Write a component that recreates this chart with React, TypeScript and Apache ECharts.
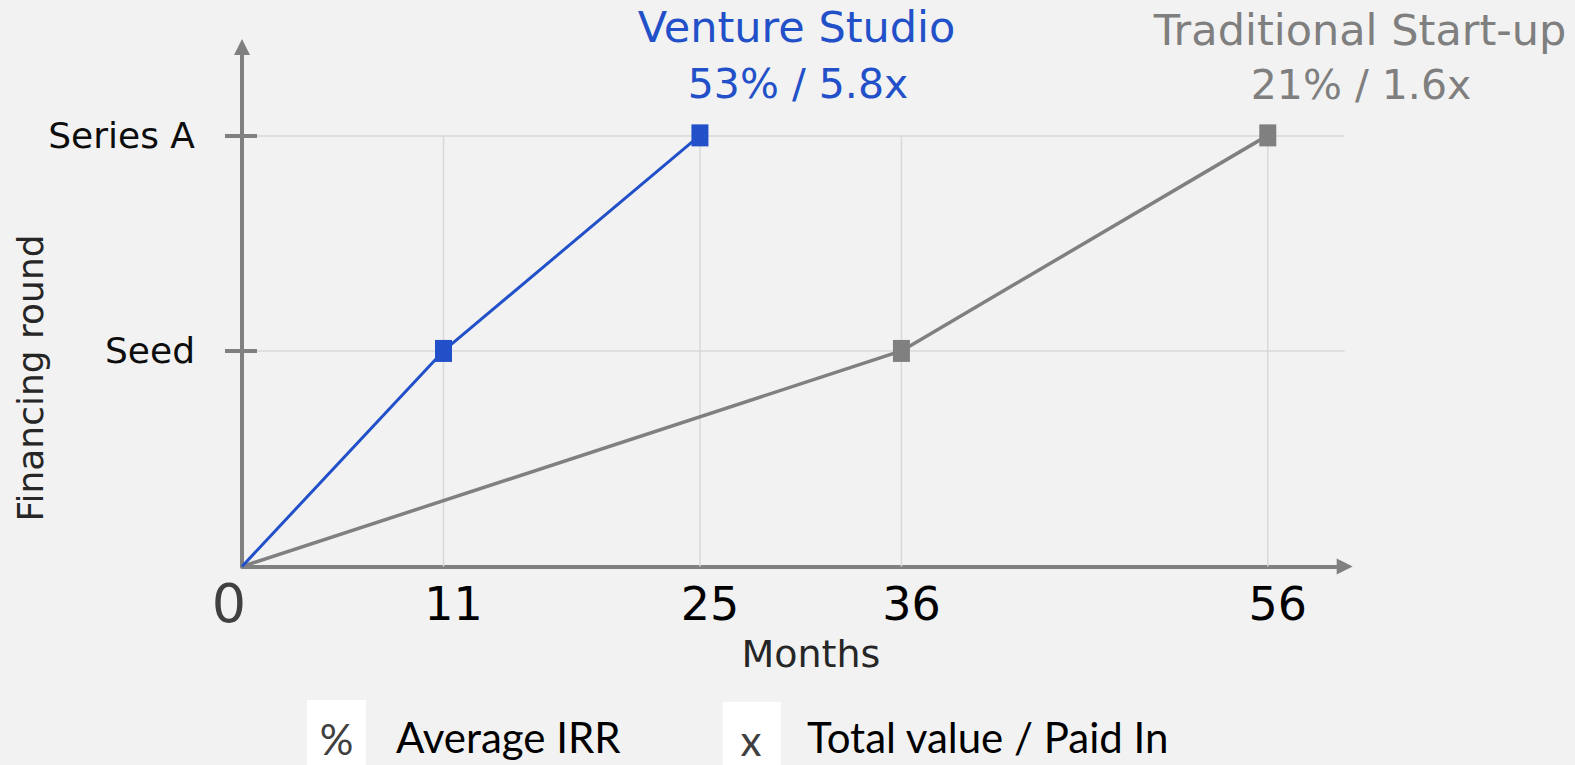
import React, { useEffect, useRef } from "react";
import * as echarts from "echarts";

// ---- data ----
const monthTicks = [0, 11, 25, 36, 56];
const gridMonths = [11, 25, 36, 56];
const roundValues = [1, 2];
const roundLabels = ["", "Seed", "Series A"];
const ventureMonths = [0, 11, 25];
const ventureRounds = [0, 1, 2];
const traditionalMonths = [0, 36, 56];
const traditionalRounds = [0, 1, 2];
const ventureTitle = "Venture Studio";
const ventureStats = "53% / 5.8x";
const traditionalTitle = "Traditional Start-up";
const traditionalStats = "21% / 1.6x";
const legendSymbols = ["%", "x"];
const legendTexts = ["Average IRR", "Total value / Paid In"];
const xAxisName = "Months";
const yAxisName = "Financing round";

const BLUE = "#2150c8";
const GRAY = "#808080";
const GRID = "#d9d9d9";
const FONT = "DejaVu Sans";

function buildSeriesData(xs: number[], ys: number[]) {
  return xs.map((x, i) => (i === 0 ? { value: [x, ys[i]], symbol: "none" } : { value: [x, ys[i]] }));
}

export default function App() {
  const ref = useRef<HTMLDivElement>(null);
  useEffect(() => {
    if (!ref.current) return;
    const chart = echarts.init(ref.current, null, { renderer: "svg" });
    const axisLineStyle = { color: GRAY, width: 4 };
    const gridSeries = gridMonths.map((m) => ({
      type: "line",
      data: [[m, 0], [m, 2]],
      symbol: "none",
      silent: true,
      z: 1,
      lineStyle: { color: GRID, width: 1.5 },
    }));
    const option: any = {
      animation: false,
      backgroundColor: "#f2f2f2",
      textStyle: { fontFamily: FONT },
      grid: { left: 242, right: 230.3, top: 47, bottom: 198.5, outerBoundsMode: "none", containLabel: false },
      xAxis: {
        type: "value",
        min: 0,
        max: 60.2,
        name: xAxisName,
        nameLocation: "middle",
        nameGap: 64,
        nameTextStyle: { fontFamily: FONT, fontSize: 38, color: "#262626", padding: [0, 0, 0, 35] },
        axisLine: { show: true, symbol: ["none", "triangle"], symbolSize: [16, 16], lineStyle: axisLineStyle },
        axisTick: { show: false },
        splitLine: { show: false },
        axisLabel: {
          customValues: monthTicks,
          margin: 14,
          formatter: (v: number) => (v === 0 ? `{z|${v}}` : `{n|${v}}`),
          rich: {
            z: { fontFamily: FONT, fontSize: 54, lineHeight: 46, color: "#404040", padding: [0, 26, 0, 0] },
            n: { fontFamily: FONT, fontSize: 46, lineHeight: 46, color: "#000000", padding: [0, 0, 0, 20] },
          },
        },
      },
      yAxis: [
        {
          type: "value",
          min: 0,
          max: 2.41,
          position: "left",
          axisLine: { show: true, symbol: ["none", "triangle"], symbolSize: [16, 16], lineStyle: axisLineStyle },
          axisTick: { show: true, length: 17, customValues: roundValues, lineStyle: { color: GRAY, width: 4 } },
          axisLabel: {
            customValues: roundValues,
            margin: 47,
            formatter: (v: number) => roundLabels[Math.round(v)],
            fontFamily: FONT,
            fontSize: 36,
            color: "#0d0d0d",
          },
          splitLine: { show: true, lineStyle: { color: GRID, width: 1.5 } },
        },
        {
          type: "value",
          min: 0,
          max: 2.41,
          position: "left",
          axisLine: { show: false },
          axisTick: { show: true, inside: true, length: 15, customValues: roundValues, lineStyle: { color: GRAY, width: 4 } },
          axisLabel: { show: false },
          splitLine: { show: false },
        },
      ],
      series: [
        ...gridSeries,
        {
          name: traditionalTitle,
          type: "line",
          z: 3,
          data: buildSeriesData(traditionalMonths, traditionalRounds),
          symbol: "rect",
          symbolSize: [17, 22],
          itemStyle: { color: GRAY },
          lineStyle: { color: GRAY, width: 3.5 },
        },
        {
          name: ventureTitle,
          type: "line",
          z: 4,
          data: buildSeriesData(ventureMonths, ventureRounds),
          symbol: "rect",
          symbolSize: [17, 22],
          itemStyle: { color: BLUE },
          lineStyle: { color: BLUE, width: 3 },
        },
      ],
      graphic: [
        { type: "text", x: 796.5, y: 27, style: { text: ventureTitle, font: `43px "${FONT}"`, fill: BLUE, textAlign: "center", textVerticalAlign: "middle" } },
        { type: "text", x: 798, y: 84, style: { text: ventureStats, font: `41px "${FONT}"`, fill: BLUE, textAlign: "center", textVerticalAlign: "middle" } },
        { type: "text", x: 1360, y: 30, style: { text: traditionalTitle, font: `43px "${FONT}"`, fill: "#7f7f7f", textAlign: "center", textVerticalAlign: "middle" } },
        { type: "text", x: 1361, y: 85, style: { text: traditionalStats, font: `41px "${FONT}"`, fill: "#7f7f7f", textAlign: "center", textVerticalAlign: "middle" } },
        { type: "text", x: 30, y: 378, rotation: Math.PI / 2, style: { text: yAxisName, font: `36px "${FONT}"`, fill: "#262626", textAlign: "center", textVerticalAlign: "middle" } },
        { type: "rect", shape: { x: 307, y: 700, width: 59, height: 70 }, style: { fill: "#ffffff" } },
        { type: "rect", shape: { x: 722.7, y: 701.7, width: 58, height: 70 }, style: { fill: "#ffffff" } },
        { type: "text", x: 336.5, y: 739, style: { text: legendSymbols[0], font: `42px Lato`, lineHeight: 40, fill: "#404040", textAlign: "center", textVerticalAlign: "middle" } },
        { type: "text", x: 751, y: 740, style: { text: legendSymbols[1], font: `42px Lato`, lineHeight: 40, fill: "#404040", textAlign: "center", textVerticalAlign: "middle" } },
        { type: "text", x: 396, y: 737, style: { text: legendTexts[0], font: `42px Lato`, lineHeight: 40, fill: "#000000", textAlign: "left", textVerticalAlign: "middle" } },
        { type: "text", x: 807, y: 737, style: { text: legendTexts[1], font: `42px Lato`, lineHeight: 40, fill: "#000000", textAlign: "left", textVerticalAlign: "middle" } },
      ],
    };
    chart.setOption(option);
    return () => chart.dispose();
  }, []);
  return <div ref={ref} style={{ position: "fixed", left: 0, top: 0, width: 1575, height: 765 }} />;
}
